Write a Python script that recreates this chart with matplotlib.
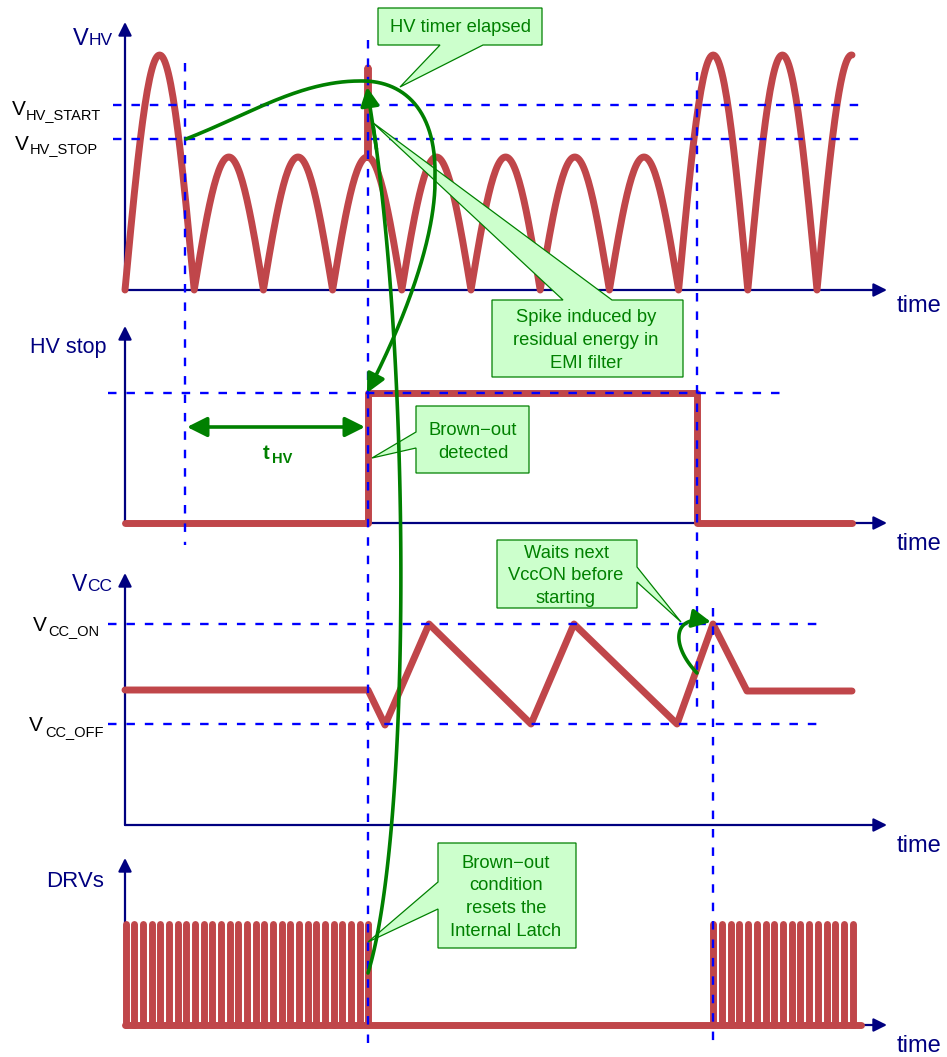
import numpy as np
import matplotlib.pyplot as plt
from matplotlib.patches import Polygon

plt.rcParams['font.family'] = ['Liberation Sans', 'DejaVu Sans']

RED = '#c0464a'
BLUE = '#0000ff'
NAVY = '#000080'
GREEN = '#008000'
FILL = '#ccffcc'

# whole drawing is laid out in image pixels (y grows downwards)
axis_y = [290, 523, 825, 1025]      # time axis of each trace
axis_top = [22, 326, 573, 858]      # tip of each vertical arrow
axis_x0, axis_x1 = 125, 887
time_label_y = [312, 550, 852, 1052]

# VHV: rectified mains, one arch per half period
arch_x0 = 125
arch_len = 69.2
arch_h = [235, 133, 133, 133, 133, 133, 133, 133, 235, 235, 235]
arch_end = 852
spike_x, spike_top = 368, 68
vhv_start, vhv_stop = 105, 139

# HV stop signal
hvs_x = [125, 368, 368, 697, 697, 852]
hvs_y = [523, 523, 393, 393, 523, 523]
hvs_high = 393

# Vcc
vcc_x = [125, 368, 385, 429, 531, 574, 677, 713, 747, 852]
vcc_y = [690, 690, 725, 624, 724, 624, 724, 624, 691, 691]
vcc_on, vcc_off = 624, 724

# DRVs bursts: first pulse, last pulse, number of pulses
drv_bursts = [(125.7, 368.3, 29), (713.3, 852.7, 17)]
drv_top, drv_base = 924, 1025
drv_line = (125, 861)

# dashed markers
vmarkers = [(185, 63, 545), (368, 40, 1050), (697, 72, 710), (713, 608, 1050)]
hmarkers = [(vhv_start, 113, 860), (vhv_stop, 113, 860), (hvs_high, 108, 780),
            (vcc_on, 108, 818), (vcc_off, 108, 818)]

# callouts: box (x0, y0, x1, y1), wedge (side, a, b, tip), lines, text centre x, first baseline
callouts = [
    ((378, 8, 542, 45), ('bottom', 440, 483, (400, 87)), ["HV timer elapsed"], 460, 32),
    ((492, 300, 683, 377), ('top', 563, 612, (372, 122)),
     ["Spike induced by", "residual energy in", "EMI filter"], 586, 322.5),
    ((416, 406, 529, 473), ('left', 432, 448, (372, 458)), ["Brown\u2212out", "detected"], 473, 435),
    ((497, 540, 637, 608), ('right', 567, 582, (681, 622)),
     ["Waits next", "VccON before", "starting"], 566, 558),
    ((438, 843, 576, 948), ('left', 882, 909, (368, 942)),
     ["Brown\u2212out", "condition", "resets the", "Internal Latch"], 506, 868),
]
line_step = 22.5


def bezier(p0, p1, p2, p3, n=120):
    t = np.linspace(0, 1, n)[:, None]
    p0, p1, p2, p3 = map(np.array, (p0, p1, p2, p3))
    return (1 - t) ** 3 * p0 + 3 * (1 - t) ** 2 * t * p1 + 3 * (1 - t) * t ** 2 * p2 + t ** 3 * p3


fig = plt.figure(figsize=(9.47, 10.57), dpi=100)
ax = fig.add_axes([0, 0, 1, 1])
ax.set_xlim(0, 947)
ax.set_ylim(1057, 0)
ax.axis('off')

# axes with arrows
for yb, yt, yl in zip(axis_y, axis_top, time_label_y):
    for xy, xyt in [((axis_x0, yt), (axis_x0, yb)), ((axis_x1, yb), (axis_x0, yb))]:
        ax.annotate('', xy=xy, xytext=xyt, zorder=1,
                    arrowprops=dict(arrowstyle='-|>', color=NAVY, lw=1.6,
                                    mutation_scale=20, shrinkA=0, shrinkB=0))
    ax.text(897, yl, 'time', color=NAVY, fontsize=17, ha='left', va='baseline')

# axis names
ax.text(73, 45, 'V', color=NAVY, fontsize=17, va='baseline')
ax.text(89, 45, 'HV', color=NAVY, fontsize=12.5, va='baseline')
ax.text(30, 353, 'HV stop', color=NAVY, fontsize=15.5, va='baseline')
ax.text(72, 591, 'V', color=NAVY, fontsize=16.5, va='baseline')
ax.text(87, 591, 'CC', color=NAVY, fontsize=12.5, va='baseline')
ax.text(46, 887, 'DRVs', color=NAVY, fontsize=16, va='baseline')

# threshold names
for x, yb, sub, xs, ys in [(12, 115, 'HV_START', 26, 119), (15, 150, 'HV_STOP', 30, 153),
                           (33, 631, 'CC_ON', 48, 635), (29, 731, 'CC_OFF', 45, 736)]:
    ax.text(x, yb, 'V', color='black', fontsize=15, va='baseline')
    ax.text(xs, ys, sub, color='black', fontsize=10.5, va='baseline')

# VHV trace
xs_all, ys_all = [], []
for i, h in enumerate(arch_h):
    x0 = arch_x0 + i * arch_len
    x1 = min(x0 + arch_len, arch_end)
    xs = np.linspace(x0, x1, 60)
    ys = axis_y[0] - h * np.abs(np.sin(np.pi * (xs - x0) / arch_len))
    if x0 < spike_x < x1:
        k = np.searchsorted(xs, spike_x)
        yk = axis_y[0] - h * np.abs(np.sin(np.pi * (spike_x - x0) / arch_len))
        xs = np.concatenate([xs[:k], [spike_x] * 3, xs[k:]])
        ys = np.concatenate([ys[:k], [yk, spike_top, yk], ys[k:]])
    xs_all.append(xs)
    ys_all.append(ys)
red_kw = dict(color=RED, lw=5, solid_joinstyle='round', solid_capstyle='round', zorder=2)
ax.plot(np.concatenate(xs_all), np.concatenate(ys_all), **red_kw)

ax.plot(hvs_x, hvs_y, **red_kw)
ax.plot(vcc_x, vcc_y, **red_kw)

# DRVs
ax.plot(drv_line, [drv_base, drv_base], **red_kw)
for a, b, n in drv_bursts:
    ax.vlines(np.linspace(a, b, n), drv_base, drv_top, color=RED, lw=5,
              capstyle='round', zorder=2)

# dashed reference lines
dash_kw = dict(color=BLUE, lw=1.7, linestyle=(0, (3.6, 4.2)), zorder=3)
for x, y0, y1 in vmarkers:
    ax.plot([x, x], [y0, y1], **dash_kw)
for y, x0, x1 in hmarkers:
    ax.plot([x0, x1], [y, y], **dash_kw)

# callouts
for (x0, y0, x1, y1), (side, a, b, tip), lines, cx, by in callouts:
    if side == 'bottom':
        pts = [(x0, y0), (x1, y0), (x1, y1), (b, y1), tip, (a, y1), (x0, y1)]
    elif side == 'top':
        pts = [(x0, y0), (a, y0), tip, (b, y0), (x1, y0), (x1, y1), (x0, y1)]
    elif side == 'left':
        pts = [(x0, y0), (x1, y0), (x1, y1), (x0, y1), (x0, b), tip, (x0, a)]
    else:
        pts = [(x0, y0), (x1, y0), (x1, a), tip, (x1, b), (x1, y1), (x0, y1)]
    ax.add_patch(Polygon(pts, closed=True, fc=FILL, ec=GREEN, lw=0.9, zorder=4))
    for j, s in enumerate(lines):
        ax.text(cx, by + j * line_step, s, color=GREEN, fontsize=13.2,
                ha='center', va='baseline', zorder=6)

# green arrows
curve_a = np.vstack([bezier((186, 139), (250, 114), (300, 81), (360, 81)),
                     bezier((360, 81), (402, 80), (436, 108), (435, 175)),
                     bezier((435, 175), (437, 240), (400, 330), (367, 393))])
curve_b = bezier((368, 973), (412, 830), (412, 344), (367, 87))
curve_c = bezier((697, 673), (670, 645), (672, 612), (711, 622))
for c in [curve_a, curve_b, curve_c]:
    ax.plot(c[:-6, 0], c[:-6, 1], color=GREEN, lw=2.6, solid_capstyle='round', zorder=5)
    ax.annotate('', xy=tuple(c[-1]), xytext=tuple(c[-10]), zorder=5,
                arrowprops=dict(arrowstyle='-|>', color=GREEN, lw=2.6,
                                mutation_scale=28, shrinkA=0, shrinkB=0))

# t_HV
ax.annotate('', xy=(365, 427), xytext=(187, 427), zorder=5,
            arrowprops=dict(arrowstyle='<|-|>', color=GREEN, lw=2.6,
                            mutation_scale=30, shrinkA=0, shrinkB=0))
ax.text(263, 459, 't', color=GREEN, fontsize=14.5, fontweight='bold', va='baseline')
ax.text(272, 463, 'HV', color=GREEN, fontsize=10.5, fontweight='bold', va='baseline')

fig.savefig('out.png', dpi=100)
